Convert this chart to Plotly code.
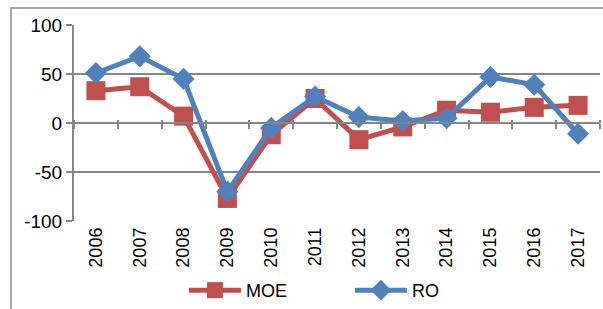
import plotly.graph_objects as go

years = ["2006", "2007", "2008", "2009", "2010", "2011", "2012", "2013", "2014", "2015", "2016", "2017"]
moe = [33, 37, 7, -77, -12, 25, -17, -4, 13, 11, 16, 18]
ro = [51, 68, 45, -70, -5, 27, 6, 2, 5, 47, 39, -11]
y_ticks = [-100, -50, 0, 50, 100]
y_labels = ["-100", "-50", "0", "50", "100"]

idx = list(range(len(years)))
RED = "#C0504D"
BLUE = "#4F81BD"
GRID = "#868686"
FONT = dict(family="Liberation Sans, Arial, sans-serif", size=18, color="#000000")
YFONT = dict(family="Liberation Sans, Arial, sans-serif", size=19, color="#000000")

fig = go.Figure()
fig.add_trace(go.Scatter(
    x=idx, y=moe, name="MOE", mode="lines+markers",
    line=dict(color=RED, width=5),
    marker=dict(symbol="square", size=19, color=RED),
))
fig.add_trace(go.Scatter(
    x=idx, y=ro, name="RO", mode="lines+markers",
    line=dict(color=BLUE, width=5),
    marker=dict(symbol="diamond", size=17, color=BLUE),
))

bounds = [i - 0.5 for i in range(len(years) + 1)]

fig.update_layout(
    width=603, height=309,
    margin=dict(l=74, r=3, t=25, b=88, autoexpand=False),
    paper_bgcolor="white", plot_bgcolor="white",
    font=FONT,
    showlegend=True,
    legend=dict(orientation="h", x=0.209, xanchor="left", y=-0.26, yanchor="top",
                itemwidth=52, entrywidth=99, entrywidthmode="pixels",
                font=FONT, bgcolor="rgba(0,0,0,0)", tracegroupgap=0),
    xaxis=dict(
        range=[-0.5, len(years) - 0.5], tickmode="array", tickvals=idx, ticktext=years,
        tickangle=-90, showgrid=False, zeroline=False, showline=False, ticks="",
        tickfont=FONT, fixedrange=True, automargin=False, ticklabelstandoff=2,
    ),
    xaxis2=dict(
        overlaying="x", matches="x", anchor="free", position=0.5,
        range=[-0.5, len(years) - 0.5], tickmode="array", tickvals=bounds,
        showticklabels=False, showgrid=False, zeroline=False,
        showline=True, linecolor=GRID, linewidth=2,
        ticks="outside", ticklen=5, tickwidth=2, tickcolor=GRID, automargin=False,
    ),
    xaxis3=dict(
        overlaying="x", matches="x", anchor="free", position=0.5, side="top",
        range=[-0.5, len(years) - 0.5], tickmode="array", tickvals=bounds,
        showticklabels=False, showgrid=False, zeroline=False, showline=False,
        ticks="outside", ticklen=3, tickwidth=2, tickcolor=GRID, automargin=False,
    ),
    yaxis=dict(
        range=[-100, 100], tickmode="array", tickvals=y_ticks, ticktext=y_labels,
        ticksuffix="\u00a0\u00a0\u00a0",
        showgrid=True, gridcolor=GRID, gridwidth=1.5, zeroline=False,
        showline=True, linecolor=GRID, linewidth=2,
        ticks="outside", ticklen=6, tickwidth=2, tickcolor=GRID,
        tickfont=YFONT, fixedrange=True, automargin=False,
    ),
    shapes=[dict(type="rect", xref="paper", yref="paper",
                 x0=-0.1198, x1=1.2, y0=-0.7, y1=1.0867,
                 line=dict(color="#8C8C8C", width=1.5), fillcolor="rgba(0,0,0,0)",
                 layer="below")],
)

fig.add_trace(go.Scatter(x=[0], y=[0], xaxis="x2", showlegend=False, hoverinfo="skip",
                         mode="markers", marker=dict(opacity=0)))
fig.add_trace(go.Scatter(x=[0], y=[0], xaxis="x3", showlegend=False, hoverinfo="skip",
                         mode="markers", marker=dict(opacity=0)))

fig.write_html("out.html", config={"displayModeBar": False},
               post_script="document.body.style.margin='0';document.body.style.overflow='hidden';")
